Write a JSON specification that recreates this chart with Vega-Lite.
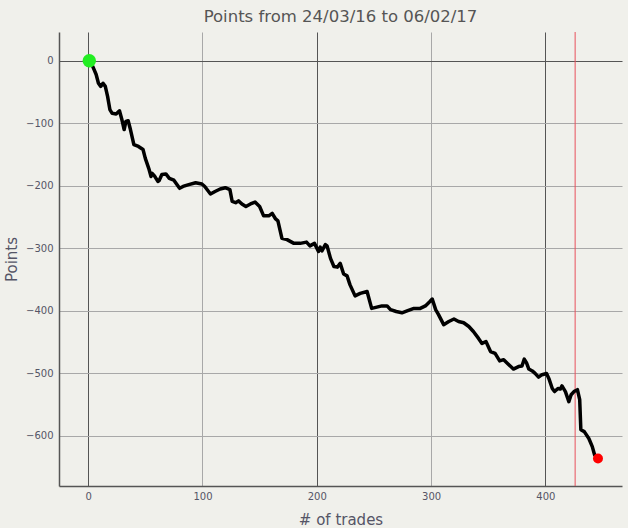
{
  "$schema": "https://vega.github.io/schema/vega-lite/v6.json",
  "width": 563,
  "height": 454,
  "autosize": "none",
  "padding": {"left": 59, "top": 32, "right": 6, "bottom": 42},
  "background": "#f0f0eb",
  "config": {
    "view": {"stroke": null},
    "font": "DejaVu Sans",
    "title": {"font": "DejaVu Sans", "fontSize": 16.5, "fontWeight": "normal", "color": "#555555", "offset": 6},
    "axis": {
      "labelFont": "DejaVu Sans", "labelFontSize": 10, "labelColor": "#555566",
      "titleFont": "DejaVu Sans", "titleFontSize": 15, "titleFontWeight": "normal", "titleColor": "#555566",
      "domainColor": "#555555", "domainWidth": 1.5, "ticks": false,
      "gridOpacity": 1, "gridWidth": 1
    }
  },
  "title": "Points from 24/03/16 to 06/02/17",
  "datasets": {
    "line": [
      {"trade": 1, "points": 0}, {"trade": 4, "points": -9}, {"trade": 7, "points": -22}, {"trade": 9, "points": -36},
      {"trade": 11, "points": -41}, {"trade": 13, "points": -36}, {"trade": 15, "points": -41}, {"trade": 17, "points": -57},
      {"trade": 19, "points": -78}, {"trade": 21, "points": -84}, {"trade": 24.5, "points": -85}, {"trade": 27.4, "points": -80},
      {"trade": 29.5, "points": -94}, {"trade": 31.5, "points": -110}, {"trade": 33, "points": -97}, {"trade": 35, "points": -96},
      {"trade": 37, "points": -110}, {"trade": 40, "points": -134}, {"trade": 44, "points": -137}, {"trade": 48, "points": -142},
      {"trade": 50, "points": -156}, {"trade": 53, "points": -172}, {"trade": 55, "points": -185}, {"trade": 56, "points": -180},
      {"trade": 58, "points": -184}, {"trade": 61, "points": -193}, {"trade": 62, "points": -192}, {"trade": 64.5, "points": -182},
      {"trade": 68, "points": -181}, {"trade": 71, "points": -188}, {"trade": 75, "points": -191}, {"trade": 80, "points": -204},
      {"trade": 83, "points": -201}, {"trade": 88, "points": -198}, {"trade": 94, "points": -195}, {"trade": 99.5, "points": -197},
      {"trade": 102, "points": -201}, {"trade": 107, "points": -213}, {"trade": 111, "points": -209}, {"trade": 115.5, "points": -205},
      {"trade": 120, "points": -203}, {"trade": 124, "points": -206}, {"trade": 126, "points": -225}, {"trade": 129, "points": -227},
      {"trade": 131.5, "points": -224}, {"trade": 134.5, "points": -229}, {"trade": 138, "points": -233}, {"trade": 142, "points": -229},
      {"trade": 146, "points": -226}, {"trade": 150, "points": -233}, {"trade": 153.5, "points": -248}, {"trade": 158, "points": -248},
      {"trade": 161, "points": -244}, {"trade": 164, "points": -253}, {"trade": 166, "points": -256}, {"trade": 169.5, "points": -284},
      {"trade": 174, "points": -286}, {"trade": 180, "points": -292}, {"trade": 185.5, "points": -292}, {"trade": 191, "points": -290},
      {"trade": 194, "points": -296}, {"trade": 198, "points": -292}, {"trade": 201.5, "points": -305}, {"trade": 203, "points": -298},
      {"trade": 204.5, "points": -304}, {"trade": 207.5, "points": -294}, {"trade": 209, "points": -296}, {"trade": 212, "points": -316},
      {"trade": 215, "points": -329}, {"trade": 218, "points": -330}, {"trade": 220.5, "points": -324}, {"trade": 223.5, "points": -341},
      {"trade": 226.5, "points": -344}, {"trade": 229, "points": -358}, {"trade": 233.5, "points": -376}, {"trade": 238, "points": -372},
      {"trade": 244, "points": -369}, {"trade": 248, "points": -396}, {"trade": 252.5, "points": -394}, {"trade": 257, "points": -392},
      {"trade": 261.5, "points": -392}, {"trade": 264.5, "points": -398}, {"trade": 269.5, "points": -401}, {"trade": 274.5, "points": -403},
      {"trade": 279, "points": -400}, {"trade": 285, "points": -396}, {"trade": 290.5, "points": -396}, {"trade": 295, "points": -392},
      {"trade": 299, "points": -385}, {"trade": 301, "points": -381}, {"trade": 304, "points": -398}, {"trade": 306.5, "points": -406},
      {"trade": 311, "points": -422}, {"trade": 315.5, "points": -417}, {"trade": 320, "points": -413}, {"trade": 324, "points": -417},
      {"trade": 328.5, "points": -419}, {"trade": 333, "points": -425}, {"trade": 337, "points": -433}, {"trade": 341.5, "points": -444},
      {"trade": 344.5, "points": -452}, {"trade": 348, "points": -449}, {"trade": 352, "points": -465}, {"trade": 356, "points": -468},
      {"trade": 360, "points": -480}, {"trade": 363.5, "points": -478}, {"trade": 368, "points": -486}, {"trade": 372, "points": -493},
      {"trade": 376.5, "points": -489}, {"trade": 379.5, "points": -488}, {"trade": 381.5, "points": -477}, {"trade": 383.5, "points": -483},
      {"trade": 385.5, "points": -493}, {"trade": 388.5, "points": -496}, {"trade": 391, "points": -500}, {"trade": 394, "points": -506},
      {"trade": 397, "points": -502}, {"trade": 401, "points": -500}, {"trade": 403, "points": -508}, {"trade": 406, "points": -524},
      {"trade": 408, "points": -529}, {"trade": 411, "points": -524}, {"trade": 413, "points": -525}, {"trade": 414.5, "points": -520},
      {"trade": 417.5, "points": -529}, {"trade": 420.5, "points": -545}, {"trade": 422.5, "points": -534}, {"trade": 425, "points": -529},
      {"trade": 428, "points": -526}, {"trade": 430, "points": -542}, {"trade": 431, "points": -590}, {"trade": 434, "points": -593},
      {"trade": 438, "points": -604}, {"trade": 441, "points": -617}, {"trade": 443, "points": -630}, {"trade": 446, "points": -636}
    ],
    "ends": [
      {"trade": 1, "points": 0, "kind": "start"},
      {"trade": 446, "points": -636, "kind": "end"}
    ],
    "marker": [{"trade": 426}]
  },
  "layer": [
    {
      "data": {"name": "marker"},
      "mark": {"type": "rule", "color": "#e8505b", "strokeWidth": 1},
      "encoding": {
        "x": {"field": "trade", "type": "quantitative", "scale": {"domain": [-25.5, 467], "nice": false, "zero": false},
          "axis": {"title": "# of trades", "values": [0, 100, 200, 300, 400], "labelPadding": 5, "titlePadding": 11,
            "gridColor": {"condition": {"test": "datum.value % 200 === 0", "value": "#555555"}, "value": "#a8a8a8"}}}
      }
    },
    {
      "data": {"name": "line"},
      "mark": {"type": "line", "color": "#000000", "strokeWidth": 3.5, "strokeJoin": "round", "strokeCap": "round"},
      "encoding": {
        "x": {"field": "trade", "type": "quantitative"},
        "y": {"field": "points", "type": "quantitative", "scale": {"domain": [-680, 46], "nice": false, "zero": false},
          "axis": {"title": "Points", "values": [0, -100, -200, -300, -400, -500, -600], "labelPadding": 6, "titlePadding": 6,
            "gridColor": {"condition": {"test": "datum.value === 0", "value": "#555555"}, "value": "#a8a8a8"}}}
      }
    },
    {
      "data": {"name": "ends"},
      "mark": {"type": "point", "filled": true, "opacity": 1, "shape": "circle"},
      "encoding": {
        "x": {"field": "trade", "type": "quantitative"},
        "y": {"field": "points", "type": "quantitative"},
        "color": {"field": "kind", "type": "nominal", "scale": {"domain": ["start", "end"], "range": ["#22ee22", "#ff0000"]}, "legend": null},
        "size": {"field": "kind", "type": "nominal", "scale": {"domain": ["start", "end"], "range": [180, 100]}, "legend": null}
      }
    }
  ]
}
